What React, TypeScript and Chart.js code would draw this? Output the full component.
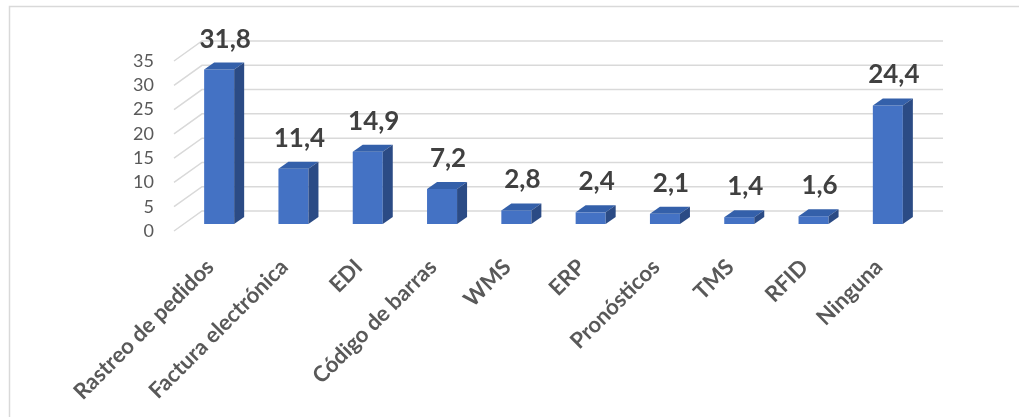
import React, { useEffect, useRef } from "react";
import { Chart, registerables } from "chart.js";

Chart.register(...registerables);

const categories = [
  "Rastreo de pedidos",
  "Factura electrónica",
  "EDI",
  "Código de barras",
  "WMS",
  "ERP",
  "Pronósticos",
  "TMS",
  "RFID",
  "Ninguna",
];
const values = [31.8, 11.4, 14.9, 7.2, 2.8, 2.4, 2.1, 1.4, 1.6, 24.4];
const yTicks = [0, 5, 10, 15, 20, 25, 30, 35];

const FRONT = "#4472C4";
const TOP = "#3460AA";
const SIDE = "#2B4B85";
const GRID = "#d9d9d9";
const DX = 10;
const DY = 7;
const FONT = "Lato, 'Open Sans', sans-serif";

const fmt = (v: number) => v.toFixed(1).replace(".", ",");

const threeD = {
  id: "threeD",
  beforeDraw(chart: any) {
    const ctx = chart.ctx;
    ctx.save();
    ctx.strokeStyle = GRID;
    ctx.lineWidth = 1.5;
    ctx.beginPath();
    ctx.moveTo(9.5, chart.height);
    ctx.lineTo(9.5, 6.5);
    ctx.lineTo(chart.width, 6.5);
    ctx.stroke();
    ctx.restore();
  },
  beforeDatasetsDraw(chart: any) {
    const ctx = chart.ctx;
    const y = chart.scales.y;
    const area = chart.chartArea;
    ctx.save();
    ctx.strokeStyle = GRID;
    ctx.lineWidth = 1.5;
    yTicks.forEach((v) => {
      const py = y.getPixelForValue(v);
      ctx.beginPath();
      ctx.moveTo(area.left - 8, py + 7);
      ctx.lineTo(area.left + 20, py - 13);
      ctx.lineTo(area.right + 18, py - 13);
      ctx.stroke();
    });
    ctx.restore();
  },
  afterDatasetsDraw(chart: any) {
    const ctx = chart.ctx;
    const meta = chart.getDatasetMeta(0);
    ctx.save();
    meta.data.forEach((bar: any, i: number) => {
      const { x, y, base, width } = bar.getProps(["x", "y", "base", "width"], true);
      const x0 = x - width / 2;
      const x1 = x + width / 2;
      ctx.fillStyle = TOP;
      ctx.beginPath();
      ctx.moveTo(x0, y);
      ctx.lineTo(x0 + DX, y - DY);
      ctx.lineTo(x1 + DX, y - DY);
      ctx.lineTo(x1, y);
      ctx.closePath();
      ctx.fill();
      ctx.fillStyle = SIDE;
      ctx.beginPath();
      ctx.moveTo(x1, y);
      ctx.lineTo(x1 + DX, y - DY);
      ctx.lineTo(x1 + DX, base - DY);
      ctx.lineTo(x1, base);
      ctx.closePath();
      ctx.fill();
      ctx.fillStyle = "#404040";
      ctx.font = `bold 26px ${FONT}`;
      ctx.textAlign = "center";
      ctx.textBaseline = "alphabetic";
      ctx.fillText(fmt(values[i]), x + 6, y - 22);
    });
    ctx.restore();
  },
};

export default function App() {
  const ref = useRef<HTMLCanvasElement | null>(null);
  useEffect(() => {
    document.body.style.margin = "0";
    const canvas = ref.current;
    if (!canvas) return;
    const chart = new Chart(canvas, {
      type: "bar",
      data: {
        labels: categories,
        datasets: [
          {
            data: values,
            backgroundColor: FRONT,
            borderWidth: 0,
            categoryPercentage: 1,
            barPercentage: 0.404,
          },
        ],
      },
      options: {
        responsive: false,
        animation: false,
        layout: { padding: { top: 54, left: 0, right: 94, bottom: 0 } },
        plugins: { legend: { display: false }, tooltip: { enabled: false } },
        scales: {
          x: {
            grid: { display: false, drawTicks: false },
            border: { display: false },
            ticks: {
              autoSkip: false,
              minRotation: 45,
              maxRotation: 45,
              color: "#595959",
              font: { family: FONT, size: 22, weight: "bold" },
              padding: 30,
              labelOffset: -9,
            },
            afterFit: (axis: any) => {
              axis.height = 193;
            },
          },
          y: {
            min: 0,
            max: 35,
            grid: { display: false, drawTicks: false },
            border: { display: false },
            ticks: {
              stepSize: 5,
              autoSkip: false,
              color: "#595959",
              font: { family: FONT, size: 18 },
              padding: 28,
              labelOffset: 7,
            },
            afterFit: (axis: any) => {
              axis.width = 182;
            },
          },
        },
      },
      plugins: [threeD],
    });
    return () => chart.destroy();
  }, []);
  return (
    <div style={{ position: "absolute", left: 0, top: 0, width: 1019, height: 417 }}>
      <canvas ref={ref} width={1019} height={417} style={{ display: "block" }} />
    </div>
  );
}
